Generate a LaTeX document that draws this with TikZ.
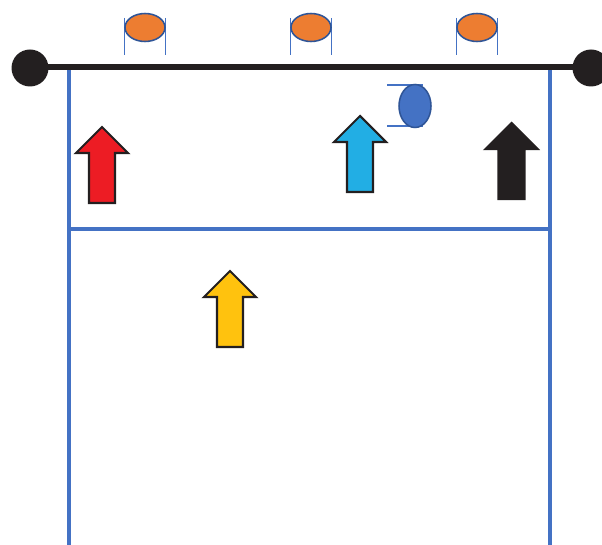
\documentclass[tikz,border=0pt]{standalone}
\usepackage{tikz}
\usetikzlibrary{calc}
\definecolor{LineaAzul}{HTML}{4472C4}
\definecolor{BordeAzul}{HTML}{2F5597}
\definecolor{Naranja}{HTML}{ED7D31}
\definecolor{Rojo}{HTML}{ED1C24}
\definecolor{Celeste}{HTML}{22AEE4}
\definecolor{Negro}{HTML}{231F20}
\definecolor{Amarillo}{HTML}{FFC20E}
\tikzset{
  cancha/.style   = {draw=LineaAzul, line width=2.8pt},
  red/.style      = {draw=Negro, line width=3.6pt},
  poste/.style    = {fill=Negro},
  antena/.style   = {draw=LineaAzul, line width=1.2pt},
  balon/.style    = {fill=Naranja, draw=BordeAzul, line width=1.1pt},
  bloque/.style   = {fill=LineaAzul, draw=BordeAzul, line width=1.1pt},
  jugador/.style  = {draw=Negro, line width=1.5pt, line join=miter},
  pics/flechajug/.style = {code={
    \path[jugador,pic actions] (0,0) -- (26,26) -- (13,26) -- (13,76)
      -- (-13,76) -- (-13,26) -- (-26,26) -- cycle;
  }},
}
\begin{document}
\begin{tikzpicture}[x=0.025cm,y=-0.025cm]
  \clip (0,0) rectangle (602,544);
  % cancha
  \draw[cancha] (69,600) -- (69,67) -- (550,67) -- (550,600);
  \draw[cancha] (69,229) -- (550,229);
  % red y postes
  \draw[red] (30,67) -- (591,67);
  \fill[poste] (30,68) circle (18.5);
  \fill[poste] (591,68) circle (18.5);
  % balones sobre la red
  \foreach \x in {145,311,477}{
    \draw[antena] (\x-20.5,18) -- (\x-20.5,55);
    \draw[antena] (\x+20.5,18) -- (\x+20.5,55);
    \draw[balon] (\x,27.5) ellipse (20 and 14);
  }
  % bloqueo
  \draw[antena] (387,85) -- (423,85);
  \draw[antena] (387,126) -- (423,126);
  \draw[bloque] (415,106) ellipse (16 and 21.5);
  % jugadores
  \pic[fill=Rojo] at (102,127) {flechajug};
  \pic[fill=Celeste] at (360,116) {flechajug};
  \pic[fill=Negro] at (511.5,123) {flechajug};
  \pic[fill=Amarillo] at (230,271) {flechajug};
\end{tikzpicture}
\end{document}
